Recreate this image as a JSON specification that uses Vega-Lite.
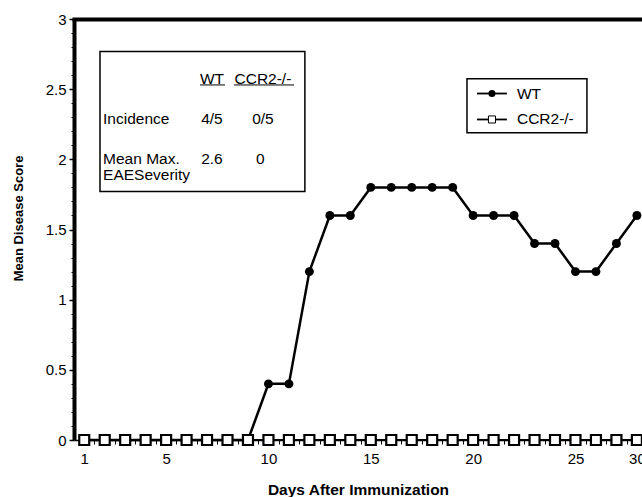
{
  "$schema": "https://vega.github.io/schema/vega-lite/v6.json",
  "width": 568,
  "height": 421,
  "autosize": {"type": "none"},
  "padding": {"left": 74, "top": 19, "right": 0, "bottom": 57},
  "background": "white",
  "config": {
    "view": {"stroke": null},
    "axis": {
      "grid": false,
      "domainColor": "black",
      "tickColor": "black",
      "labelColor": "black",
      "titleColor": "black",
      "labelFont": "Liberation Sans",
      "titleFont": "Liberation Sans",
      "labelFontSize": 15,
      "titleFontWeight": "bold"
    },
    "text": {"font": "Liberation Sans", "fontSize": 15.5, "color": "black"}
  },
  "datasets": {
    "scores": [
      {"day": 1, "score": 0, "group": "WT"}, {"day": 2, "score": 0, "group": "WT"}, {"day": 3, "score": 0, "group": "WT"},
      {"day": 4, "score": 0, "group": "WT"}, {"day": 5, "score": 0, "group": "WT"}, {"day": 6, "score": 0, "group": "WT"},
      {"day": 7, "score": 0, "group": "WT"}, {"day": 8, "score": 0, "group": "WT"}, {"day": 9, "score": 0, "group": "WT"},
      {"day": 10, "score": 0.4, "group": "WT"}, {"day": 11, "score": 0.4, "group": "WT"}, {"day": 12, "score": 1.2, "group": "WT"},
      {"day": 13, "score": 1.6, "group": "WT"}, {"day": 14, "score": 1.6, "group": "WT"}, {"day": 15, "score": 1.8, "group": "WT"},
      {"day": 16, "score": 1.8, "group": "WT"}, {"day": 17, "score": 1.8, "group": "WT"}, {"day": 18, "score": 1.8, "group": "WT"},
      {"day": 19, "score": 1.8, "group": "WT"}, {"day": 20, "score": 1.6, "group": "WT"}, {"day": 21, "score": 1.6, "group": "WT"},
      {"day": 22, "score": 1.6, "group": "WT"}, {"day": 23, "score": 1.4, "group": "WT"}, {"day": 24, "score": 1.4, "group": "WT"},
      {"day": 25, "score": 1.2, "group": "WT"}, {"day": 26, "score": 1.2, "group": "WT"}, {"day": 27, "score": 1.4, "group": "WT"},
      {"day": 28, "score": 1.6, "group": "WT"},
      {"day": 1, "score": 0, "group": "CCR2-/-"}, {"day": 2, "score": 0, "group": "CCR2-/-"}, {"day": 3, "score": 0, "group": "CCR2-/-"},
      {"day": 4, "score": 0, "group": "CCR2-/-"}, {"day": 5, "score": 0, "group": "CCR2-/-"}, {"day": 6, "score": 0, "group": "CCR2-/-"},
      {"day": 7, "score": 0, "group": "CCR2-/-"}, {"day": 8, "score": 0, "group": "CCR2-/-"}, {"day": 9, "score": 0, "group": "CCR2-/-"},
      {"day": 10, "score": 0, "group": "CCR2-/-"}, {"day": 11, "score": 0, "group": "CCR2-/-"}, {"day": 12, "score": 0, "group": "CCR2-/-"},
      {"day": 13, "score": 0, "group": "CCR2-/-"}, {"day": 14, "score": 0, "group": "CCR2-/-"}, {"day": 15, "score": 0, "group": "CCR2-/-"},
      {"day": 16, "score": 0, "group": "CCR2-/-"}, {"day": 17, "score": 0, "group": "CCR2-/-"}, {"day": 18, "score": 0, "group": "CCR2-/-"},
      {"day": 19, "score": 0, "group": "CCR2-/-"}, {"day": 20, "score": 0, "group": "CCR2-/-"}, {"day": 21, "score": 0, "group": "CCR2-/-"},
      {"day": 22, "score": 0, "group": "CCR2-/-"}, {"day": 23, "score": 0, "group": "CCR2-/-"}, {"day": 24, "score": 0, "group": "CCR2-/-"},
      {"day": 25, "score": 0, "group": "CCR2-/-"}, {"day": 26, "score": 0, "group": "CCR2-/-"}, {"day": 27, "score": 0, "group": "CCR2-/-"},
      {"day": 28, "score": 0, "group": "CCR2-/-"}
    ],
    "boxes": [
      {"day": 1.77, "day2": 11.78, "score": 2.768, "score2": 1.771},
      {"day": 19.7, "day2": 25.56, "score": 2.575, "score2": 2.19}
    ],
    "underlines": [
      {"day": 6.66, "day2": 7.88, "score": 2.53},
      {"day": 8.32, "day2": 11.25, "score": 2.53}
    ],
    "tableLabels": [
      {"day": 1.92, "score": 2.29, "label": "Incidence"},
      {"day": 1.92, "score": 2.005, "label": "Mean Max."},
      {"day": 1.92, "score": 1.885, "label": "EAESeverity"}
    ],
    "tableValues": [
      {"day": 7.24, "score": 2.57, "label": "WT"},
      {"day": 9.73, "score": 2.57, "label": "CCR2-/-"},
      {"day": 7.24, "score": 2.29, "label": "4/5"},
      {"day": 9.73, "score": 2.29, "label": "0/5"},
      {"day": 7.24, "score": 2.005, "label": "2.6"},
      {"day": 9.6, "score": 2.005, "label": "0"}
    ],
    "legendLines": [
      {"day": 20.19, "day2": 21.65, "score": 2.469, "group": "WT"},
      {"day": 20.19, "day2": 21.65, "score": 2.284, "group": "CCR2-/-"}
    ],
    "legendText": [
      {"day": 22.14, "score": 2.469, "label": "WT"},
      {"day": 22.14, "score": 2.284, "label": "CCR2-/-"}
    ],
    "frame": [
      {"side": "left"}
    ]
  },
  "encoding": {
    "x": {"field": "day", "type": "quantitative", "scale": {"domain": [0.5, 28.25], "nice": false, "zero": false}, "axis": null},
    "y": {"field": "score", "type": "quantitative", "scale": {"domain": [0, 3], "nice": false, "zero": false}, "axis": null}
  },
  "layer": [
    {
      "data": {"name": "scores"},
      "transform": [{"filter": "datum.group == 'WT'"}],
      "mark": {"type": "line", "color": "black", "strokeWidth": 2.5},
      "encoding": {
        "x": {"field": "day", "type": "quantitative", "scale": {"domain": [0.5, 28.25], "nice": false, "zero": false},
          "axis": {"orient": "bottom", "values": [1, 5, 10, 15, 20, 25, 28], "labelExpr": "datum.value == 28 ? '30' : datum.label",
            "tickSize": 4, "tickWidth": 1.5, "labelPadding": 7, "domainWidth": 1.5, "title": "Days After Immunization",
            "titleFontSize": 15.5, "titlePadding": 16}},
        "y": {"field": "score", "type": "quantitative", "scale": {"domain": [0, 3], "nice": false, "zero": false},
          "axis": {"orient": "left", "values": [0, 0.5, 1, 1.5, 2, 2.5, 3], "format": "~g", "tickSize": 5, "tickWidth": 1.5, "labelPadding": 3,
            "domain": true, "domainWidth": 4,
            "title": "Mean Disease Score", "titleFontSize": 13, "titlePadding": 20, "titleY": 199}}
      }
    },
    {
      "data": {"name": "scores"},
      "transform": [{"filter": "datum.group == 'CCR2-/-'"}],
      "mark": {"type": "line", "color": "black", "strokeWidth": 2},
      "encoding": {
        "x": {"field": "day", "type": "quantitative", "scale": {"domain": [0.5, 28.25], "nice": false, "zero": false},
          "axis": {"orient": "top", "ticks": false, "labels": false, "domainWidth": 4, "domainCap": "square", "title": null}}
      }
    },
    {
      "data": {"name": "scores"},
      "transform": [{"filter": "datum.group == 'WT'"}],
      "mark": {"type": "point", "shape": "circle", "filled": true, "color": "black", "opacity": 1, "size": 80},
      "encoding": {
        "x": {"field": "day", "type": "quantitative", "scale": {"domain": [0.5, 28.25], "nice": false, "zero": false},
          "axis": {"orient": "bottom", "values": [1.5, 2.5, 3.5, 4.5, 5.5, 6.5, 7.5, 8.5, 9.5, 10.5, 11.5, 12.5, 13.5, 14.5, 15.5, 16.5, 17.5, 18.5, 19.5, 20.5, 21.5, 22.5, 23.5, 24.5, 25.5, 26.5, 27.5],
            "labels": false, "domain": false, "tickSize": 4, "tickWidth": 1, "title": null}},
        "y": {"field": "score", "type": "quantitative", "scale": {"domain": [0, 3], "nice": false, "zero": false},
          "axis": {"orient": "left", "values": [0.1, 0.2, 0.3, 0.4, 0.6, 0.7, 0.8, 0.9, 1.1, 1.2, 1.3, 1.4, 1.6, 1.7, 1.8, 1.9, 2.1, 2.2, 2.3, 2.4, 2.6, 2.7, 2.8, 2.9],
            "labels": false, "domain": false, "tickSize": 3, "tickWidth": 1, "title": null}}
      }
    },
    {
      "data": {"name": "scores"},
      "transform": [{"filter": "datum.group == 'CCR2-/-'"}],
      "mark": {"type": "point", "shape": "square", "filled": false, "fill": "white", "fillOpacity": 1, "stroke": "black", "strokeWidth": 2.2, "opacity": 1, "size": 100}
    },
    {
      "data": {"name": "boxes"},
      "mark": {"type": "rect", "fill": "white", "stroke": "black", "strokeWidth": 1.5},
      "encoding": {
        "x2": {"field": "day2"},
        "y2": {"field": "score2"}
      }
    },
    {
      "data": {"name": "underlines"},
      "mark": {"type": "rule", "color": "black", "strokeWidth": 1},
      "encoding": {"x2": {"field": "day2"}}
    },
    {
      "data": {"name": "tableLabels"},
      "mark": {"type": "text", "align": "left", "baseline": "middle"},
      "encoding": {"text": {"field": "label"}}
    },
    {
      "data": {"name": "tableValues"},
      "mark": {"type": "text", "align": "center", "baseline": "middle"},
      "encoding": {"text": {"field": "label"}}
    },
    {
      "data": {"name": "legendLines"},
      "mark": {"type": "rule", "color": "black", "strokeWidth": 1.8},
      "encoding": {"x2": {"field": "day2"}}
    },
    {
      "data": {"name": "legendLines"},
      "transform": [{"filter": "datum.group == 'WT'"}, {"calculate": "(datum.day + datum.day2) / 2", "as": "mid"}],
      "mark": {"type": "point", "shape": "circle", "filled": true, "color": "black", "opacity": 1, "size": 50},
      "encoding": {"x": {"field": "mid", "type": "quantitative", "scale": {"domain": [0.5, 28.25], "nice": false, "zero": false}, "axis": null}}
    },
    {
      "data": {"name": "legendLines"},
      "transform": [{"filter": "datum.group == 'CCR2-/-'"}, {"calculate": "(datum.day + datum.day2) / 2", "as": "mid"}],
      "mark": {"type": "point", "shape": "square", "filled": false, "fill": "white", "fillOpacity": 1, "stroke": "black", "strokeWidth": 1, "opacity": 1, "size": 50},
      "encoding": {"x": {"field": "mid", "type": "quantitative", "scale": {"domain": [0.5, 28.25], "nice": false, "zero": false}, "axis": null}}
    },
    {
      "data": {"name": "legendText"},
      "mark": {"type": "text", "align": "left", "baseline": "middle"},
      "encoding": {"text": {"field": "label"}}
    },
    {
      "data": {"name": "frame"},
      "mark": {"type": "rect", "color": "black", "opacity": 1},
      "encoding": {
        "x": {"datum": 0.41, "type": "quantitative", "scale": {"domain": [0.5, 28.25], "nice": false, "zero": false}, "axis": null},
        "x2": {"datum": 0.6},
        "y": {"datum": -0.05, "type": "quantitative", "scale": {"domain": [0, 3], "nice": false, "zero": false}, "axis": null},
        "y2": {"datum": 3.0}
      }
    }
  ],
  "resolve": {"axis": {"x": "independent", "y": "independent"}}
}
